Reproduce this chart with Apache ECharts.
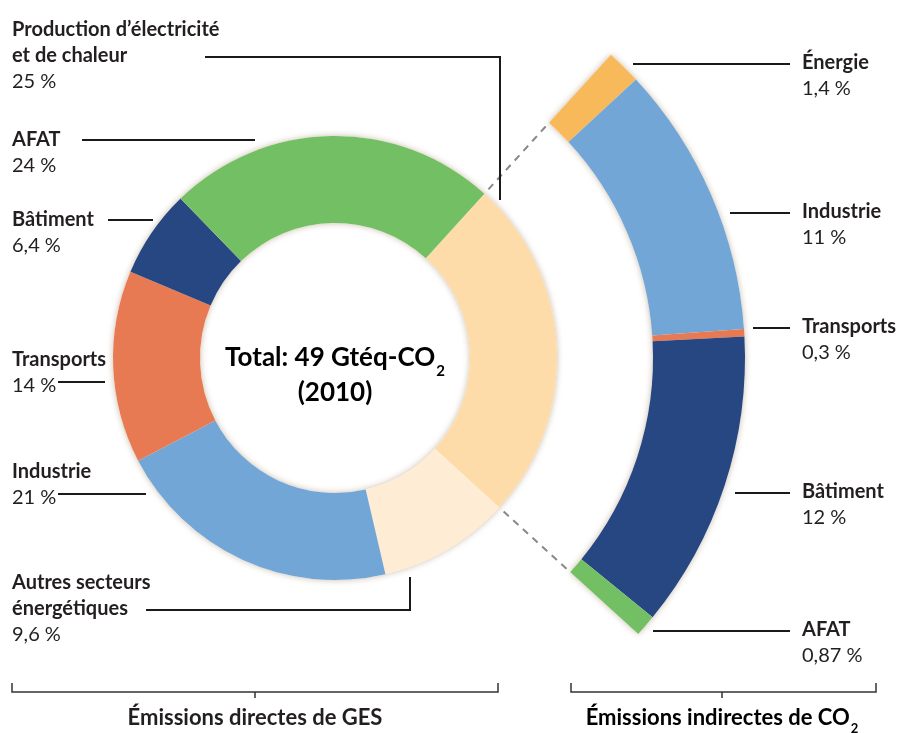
<!DOCTYPE html>
<html>
<head>
<meta charset="utf-8">
<script src="https://cdn.jsdelivr.net/npm/echarts@6/dist/echarts.min.js"></script>
<style>
  html, body { margin: 0; padding: 0; background: #fff; }
  #chart { width: 898px; height: 733px; }
</style>
</head>
<body>
<div id="chart"></div>
<script>
// data
const directNames = ['Production d’électricité\net de chaleur', 'Autres secteurs\nénergétiques', 'Industrie', 'Transports', 'Bâtiment', 'AFAT'];
const directValues = [25, 9.6, 21, 14, 6.4, 24];
const directColors = ['#fddca9', '#feecd4', '#72a6d7', '#e77a53', '#264781', '#73bf63'];

const indirectNames = ['Énergie', 'Industrie', 'Transports', 'Bâtiment', 'AFAT'];
const indirectValues = [1.4, 11, 0.3, 12, 0.87];
const indirectColors = ['#f8b95a', '#72a6d7', '#e77a53', '#264781', '#73bf63'];

const totalText = 'Total: 49 Gtéq-CO';
const yearText = '(2010)';

// layout
const cx = 335, cy = 358;
const startAngle = 47.7;
const fontFamily = 'Lato, "Open Sans", sans-serif';
const textColor = '#231f20';

const leftLabelPos = [
    { x: 12, y: 17, line: [[500, 200], [500, 57], [205, 57]] },
    { x: 12, y: 570, line: [[410, 577], [410, 610], [146, 610]] },
    { x: 12, y: 459, line: [[146, 494], [100, 494], [58, 494]] },
    { x: 12, y: 347, line: [[105, 382], [80, 382], [58, 382]] },
    { x: 12, y: 207, line: [[153, 220], [130, 220], [108, 220]] },
    { x: 12, y: 127, line: [[255, 140], [170, 140], [82, 140]] }
];
const rightLabelPos = [
    { x: 802, y: 50, line: [[633, 64], [710, 64], [790, 64]] },
    { x: 802, y: 199, line: [[730, 213], [760, 213], [790, 213]] },
    { x: 802, y: 314, line: [[753, 328], [770, 328], [790, 328]] },
    { x: 802, y: 479, line: [[735, 493], [760, 493], [790, 493]] },
    { x: 802, y: 617, line: [[653, 631], [720, 631], [790, 631]] }
];

const pct = (v) => String(v).replace('.', ',') + ' %';

const labelRich = {
    n: { fontFamily, fontWeight: 'bold', fontSize: 20, lineHeight: 26, color: textColor },
    v: { fontFamily, fontWeight: 'normal', fontSize: 20, lineHeight: 26, color: textColor }
};

const directShare = directValues[0] / directValues.reduce((a, b) => a + b, 0);
const indirectSum = indirectValues.reduce((a, b) => a + b, 0);
const filler = indirectSum * (1 - directShare) / directShare;

const halo = { shadowBlur: 6, shadowColor: 'rgba(120, 85, 40, 0.4)' };

const polar = (r, a) => [cx + r * Math.cos(a * Math.PI / 180), cy - r * Math.sin(a * Math.PI / 180)];
const endAngle = startAngle - directShare * 360;

const chart = echarts.init(document.getElementById('chart'));
chart.setOption({
    animation: false,
    backgroundColor: '#fff',
    series: [
        {
            // halo under the ring
            type: 'pie', silent: true, center: [cx, cy], radius: [135, 222],
            label: { show: false }, labelLine: { show: false },
            data: [{ value: 1, itemStyle: Object.assign({ color: '#fff' }, halo) }]
        },
        {
            type: 'pie', silent: true, center: [cx, cy], radius: [318, 410], startAngle,
            label: { show: false }, labelLine: { show: false },
            data: [
                { value: indirectSum, itemStyle: Object.assign({ color: '#fff' }, halo) },
                { value: filler, itemStyle: { color: 'transparent' } }
            ]
        },
        {
            type: 'pie',
            silent: true,
            center: [cx, cy],
            radius: [135, 222],
            startAngle,
            avoidLabelOverlap: false,
            data: directValues.map((v, i) => ({ name: directNames[i], value: v, itemStyle: { color: directColors[i] } })),
            label: {
                show: true,
                formatter: (p) => `{n|${p.name}}\n{v|${pct(p.value)}}`,
                rich: labelRich
            },
            labelLine: { show: true, lineStyle: { color: '#1a1a1a', width: 2 } },
            labelLayout: (p) => {
                const pos = leftLabelPos[p.dataIndex];
                return { x: pos.x, y: pos.y, align: 'left', verticalAlign: 'top', labelLinePoints: pos.line };
            }
        },
        {
            type: 'pie',
            silent: true,
            center: [cx, cy],
            radius: [318, 410],
            startAngle,
            avoidLabelOverlap: false,
            data: indirectValues.map((v, i) => ({ name: indirectNames[i], value: v, itemStyle: { color: indirectColors[i] } }))
                .concat([{ name: '', value: filler, itemStyle: { color: 'transparent' }, label: { show: false }, labelLine: { show: false } }]),
            label: {
                show: true,
                formatter: (p) => `{n|${p.name}}\n{v|${pct(p.value)}}`,
                rich: labelRich
            },
            labelLine: { show: true, lineStyle: { color: '#1a1a1a', width: 2 } },
            labelLayout: (p) => {
                const pos = rightLabelPos[p.dataIndex];
                if (!pos) return {};
                return { x: pos.x, y: pos.y, align: 'left', verticalAlign: 'top', labelLinePoints: pos.line };
            }
        }
    ],
    graphic: [
        {
            type: 'text', x: cx, y: cy + 17,
            style: {
                text: `{a|${totalText}}{s|2}\n{a|${yearText}}`,
                align: 'center', verticalAlign: 'middle',
                rich: {
                    a: { fontFamily, fontWeight: 'bold', fontSize: 26, lineHeight: 35, color: textColor },
                    s: { fontFamily, fontWeight: 'bold', fontSize: 15, lineHeight: 15, verticalAlign: 'bottom', color: textColor, padding: [0, 0, -4, 1] }
                }
            }
        },
        {
            type: 'line', shape: { x1: polar(228, startAngle)[0], y1: polar(228, startAngle)[1], x2: polar(316, startAngle)[0], y2: polar(316, startAngle)[1] },
            style: { stroke: '#888', lineWidth: 2, lineDash: [7, 6] }
        },
        {
            type: 'line', shape: { x1: polar(228, endAngle)[0], y1: polar(228, endAngle)[1], x2: polar(316, endAngle)[0], y2: polar(316, endAngle)[1] },
            style: { stroke: '#888', lineWidth: 2, lineDash: [7, 6] }
        },
        { type: 'polyline', shape: { points: [[12, 683], [12, 692], [498, 692], [498, 683]] }, style: { stroke: '#333', lineWidth: 1.5, fill: null } },
        { type: 'line', shape: { x1: 255, y1: 692, x2: 255, y2: 698 }, style: { stroke: '#333', lineWidth: 1.5 } },
        { type: 'polyline', shape: { points: [[571, 683], [571, 692], [876, 692], [876, 683]] }, style: { stroke: '#333', lineWidth: 1.5, fill: null } },
        { type: 'line', shape: { x1: 722, y1: 692, x2: 722, y2: 698 }, style: { stroke: '#333', lineWidth: 1.5 } },
        {
            type: 'text', x: 255, y: 718,
            style: { text: 'Émissions directes de GES', align: 'center', verticalAlign: 'middle', fontFamily, fontWeight: 'bold', fontSize: 22, fill: textColor }
        },
        {
            type: 'text', x: 722, y: 718,
            style: {
                text: '{a|Émissions indirectes de CO}{s|2}',
                align: 'center', verticalAlign: 'middle',
                rich: {
                    a: { fontFamily, fontWeight: 'bold', fontSize: 22, lineHeight: 30, color: textColor },
                    s: { fontFamily, fontWeight: 'bold', fontSize: 13, lineHeight: 13, verticalAlign: 'bottom', color: textColor, padding: [0, 0, -2, 1] }
                }
            }
        }
    ]
});
window.onresize = () => chart.resize();
</script>
</body>
</html>
